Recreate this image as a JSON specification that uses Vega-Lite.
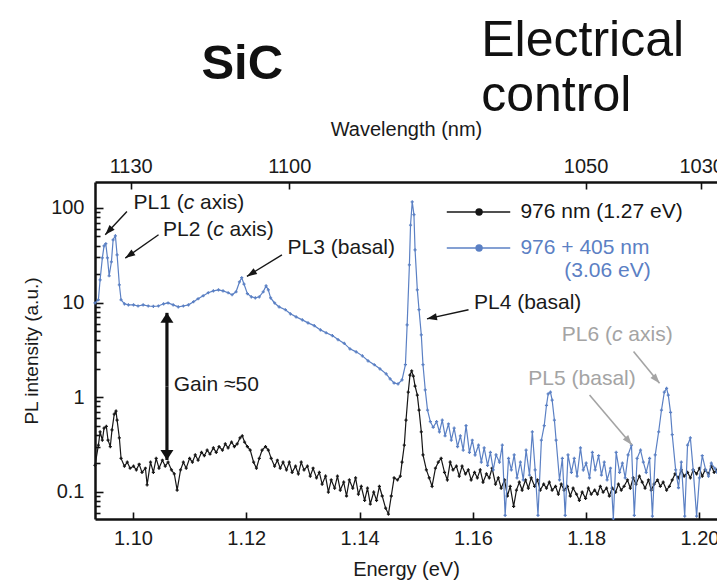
{
  "$schema": "https://vega.github.io/schema/vega-lite/v6.json",
  "width": 622,
  "height": 337,
  "autosize": {"type": "none"},
  "padding": {"left": 95, "top": 182, "right": 0, "bottom": 67},
  "config": {
    "font": "Liberation Sans",
    "view": {"stroke": null},
    "axis": {
      "domainColor": "#111111", "domainWidth": 2.5, "tickColor": "#111111", "tickWidth": 1.6,
      "labelFont": "Liberation Sans", "labelFontSize": 20, "labelColor": "#1a1a1a",
      "titleFont": "Liberation Sans", "titleFontSize": 20, "titleFontWeight": "normal", "titleColor": "#1a1a1a",
      "grid": false
    }
  },
  "datasets": {
    "spectra": [
      {"series":"976 nm","energy":1.0933,"intensity":0.19},{"series":"976 nm","energy":1.0939,"intensity":0.31},{"series":"976 nm","energy":1.0942,"intensity":0.43},{"series":"976 nm","energy":1.0946,"intensity":0.35},{"series":"976 nm","energy":1.0949,"intensity":0.47},{"series":"976 nm","energy":1.0953,"intensity":0.49},{"series":"976 nm","energy":1.0956,"intensity":0.35},{"series":"976 nm","energy":1.0960,"intensity":0.30},{"series":"976 nm","energy":1.0963,"intensity":0.45},{"series":"976 nm","energy":1.0967,"intensity":0.66},{"series":"976 nm","energy":1.0970,"intensity":0.71},{"series":"976 nm","energy":1.0972,"intensity":0.57},{"series":"976 nm","energy":1.0976,"intensity":0.37},{"series":"976 nm","energy":1.0979,"intensity":0.225},{"series":"976 nm","energy":1.0985,"intensity":0.186},{"series":"976 nm","energy":1.0990,"intensity":0.205},{"series":"976 nm","energy":1.0995,"intensity":0.177},{"series":"976 nm","energy":1.1001,"intensity":0.186},{"series":"976 nm","energy":1.1006,"intensity":0.17},{"series":"976 nm","energy":1.1011,"intensity":0.195},{"series":"976 nm","energy":1.1016,"intensity":0.16},{"series":"976 nm","energy":1.1022,"intensity":0.177},{"series":"976 nm","energy":1.1025,"intensity":0.118},{"series":"976 nm","energy":1.1031,"intensity":0.205},{"series":"976 nm","energy":1.1036,"intensity":0.16},{"series":"976 nm","energy":1.1041,"intensity":0.225},{"series":"976 nm","energy":1.1046,"intensity":0.177},{"series":"976 nm","energy":1.1052,"intensity":0.215},{"series":"976 nm","energy":1.1057,"intensity":0.186},{"series":"976 nm","energy":1.1062,"intensity":0.205},{"series":"976 nm","energy":1.1068,"intensity":0.17},{"series":"976 nm","energy":1.1073,"intensity":0.154},{"series":"976 nm","energy":1.1078,"intensity":0.104},{"series":"976 nm","energy":1.1084,"intensity":0.17},{"series":"976 nm","energy":1.1089,"intensity":0.205},{"series":"976 nm","energy":1.1094,"intensity":0.177},{"series":"976 nm","energy":1.1100,"intensity":0.225},{"series":"976 nm","energy":1.1105,"intensity":0.205},{"series":"976 nm","energy":1.1110,"intensity":0.245},{"series":"976 nm","energy":1.1115,"intensity":0.215},{"series":"976 nm","energy":1.1121,"intensity":0.26},{"series":"976 nm","energy":1.1126,"intensity":0.24},{"series":"976 nm","energy":1.1131,"intensity":0.275},{"series":"976 nm","energy":1.1136,"intensity":0.25},{"series":"976 nm","energy":1.1142,"intensity":0.29},{"series":"976 nm","energy":1.1147,"intensity":0.26},{"series":"976 nm","energy":1.1152,"intensity":0.30},{"series":"976 nm","energy":1.1158,"intensity":0.275},{"series":"976 nm","energy":1.1163,"intensity":0.32},{"series":"976 nm","energy":1.1168,"intensity":0.29},{"series":"976 nm","energy":1.1174,"intensity":0.335},{"series":"976 nm","energy":1.1179,"intensity":0.30},{"series":"976 nm","energy":1.1184,"intensity":0.32},{"series":"976 nm","energy":1.1189,"intensity":0.37},{"series":"976 nm","energy":1.1193,"intensity":0.39},{"series":"976 nm","energy":1.1197,"intensity":0.335},{"series":"976 nm","energy":1.1202,"intensity":0.30},{"series":"976 nm","energy":1.1207,"intensity":0.275},{"series":"976 nm","energy":1.1213,"intensity":0.205},{"series":"976 nm","energy":1.1218,"intensity":0.177},{"series":"976 nm","energy":1.1223,"intensity":0.225},{"series":"976 nm","energy":1.1228,"intensity":0.275},{"series":"976 nm","energy":1.1234,"intensity":0.30},{"series":"976 nm","energy":1.1239,"intensity":0.275},{"series":"976 nm","energy":1.1244,"intensity":0.225},{"series":"976 nm","energy":1.1250,"intensity":0.186},{"series":"976 nm","energy":1.1255,"intensity":0.215},{"series":"976 nm","energy":1.1260,"intensity":0.177},{"series":"976 nm","energy":1.1265,"intensity":0.205},{"series":"976 nm","energy":1.1271,"intensity":0.17},{"series":"976 nm","energy":1.1276,"intensity":0.205},{"series":"976 nm","energy":1.1281,"intensity":0.16},{"series":"976 nm","energy":1.1287,"intensity":0.186},{"series":"976 nm","energy":1.1292,"intensity":0.154},{"series":"976 nm","energy":1.1297,"intensity":0.205},{"series":"976 nm","energy":1.1302,"intensity":0.17},{"series":"976 nm","energy":1.1308,"intensity":0.186},{"series":"976 nm","energy":1.1313,"intensity":0.146},{"series":"976 nm","energy":1.1318,"intensity":0.177},{"series":"976 nm","energy":1.1324,"intensity":0.14},{"series":"976 nm","energy":1.1329,"intensity":0.16},{"series":"976 nm","energy":1.1334,"intensity":0.12},{"series":"976 nm","energy":1.1340,"intensity":0.146},{"series":"976 nm","energy":1.1345,"intensity":0.099},{"series":"976 nm","energy":1.1350,"intensity":0.133},{"series":"976 nm","energy":1.1356,"intensity":0.109},{"series":"976 nm","energy":1.1361,"intensity":0.146},{"series":"976 nm","energy":1.1366,"intensity":0.104},{"series":"976 nm","energy":1.1372,"intensity":0.126},{"series":"976 nm","energy":1.1377,"intensity":0.09},{"series":"976 nm","energy":1.1382,"intensity":0.133},{"series":"976 nm","energy":1.1388,"intensity":0.109},{"series":"976 nm","energy":1.1393,"intensity":0.14},{"series":"976 nm","energy":1.1398,"intensity":0.094},{"series":"976 nm","energy":1.1403,"intensity":0.114},{"series":"976 nm","energy":1.1409,"intensity":0.081},{"series":"976 nm","energy":1.1414,"intensity":0.109},{"series":"976 nm","energy":1.1419,"intensity":0.074},{"series":"976 nm","energy":1.1425,"intensity":0.099},{"series":"976 nm","energy":1.1430,"intensity":0.081},{"series":"976 nm","energy":1.1435,"intensity":0.114},{"series":"976 nm","energy":1.1440,"intensity":0.09},{"series":"976 nm","energy":1.1446,"intensity":0.067},{"series":"976 nm","energy":1.1451,"intensity":0.058},{"series":"976 nm","energy":1.1456,"intensity":0.09},{"series":"976 nm","energy":1.1461,"intensity":0.14},{"series":"976 nm","energy":1.1467,"intensity":0.133},{"series":"976 nm","energy":1.1472,"intensity":0.146},{"series":"976 nm","energy":1.1475,"intensity":0.205},{"series":"976 nm","energy":1.1479,"intensity":0.31},{"series":"976 nm","energy":1.1482,"intensity":0.57},{"series":"976 nm","energy":1.1486,"intensity":1.13},{"series":"976 nm","energy":1.1489,"intensity":1.71},{"series":"976 nm","energy":1.1492,"intensity":1.89},{"series":"976 nm","energy":1.1495,"intensity":1.67},{"series":"976 nm","energy":1.1498,"intensity":1.31},{"series":"976 nm","energy":1.1502,"intensity":1.05},{"series":"976 nm","energy":1.1505,"intensity":0.73},{"series":"976 nm","energy":1.1509,"intensity":0.43},{"series":"976 nm","energy":1.1512,"intensity":0.245},{"series":"976 nm","energy":1.1518,"intensity":0.17},{"series":"976 nm","energy":1.1523,"intensity":0.14},{"series":"976 nm","energy":1.1528,"intensity":0.114},{"series":"976 nm","energy":1.1534,"intensity":0.177},{"series":"976 nm","energy":1.1539,"intensity":0.205},{"series":"976 nm","energy":1.1544,"intensity":0.225},{"series":"976 nm","energy":1.1550,"intensity":0.16},{"series":"976 nm","energy":1.1555,"intensity":0.133},{"series":"976 nm","energy":1.1560,"intensity":0.205},{"series":"976 nm","energy":1.1565,"intensity":0.17},{"series":"976 nm","energy":1.1571,"intensity":0.186},{"series":"976 nm","energy":1.1576,"intensity":0.146},{"series":"976 nm","energy":1.1581,"intensity":0.186},{"series":"976 nm","energy":1.1587,"intensity":0.154},{"series":"976 nm","energy":1.1592,"intensity":0.17},{"series":"976 nm","energy":1.1597,"intensity":0.133},{"series":"976 nm","energy":1.1603,"intensity":0.16},{"series":"976 nm","energy":1.1608,"intensity":0.14},{"series":"976 nm","energy":1.1613,"intensity":0.17},{"series":"976 nm","energy":1.1618,"intensity":0.126},{"series":"976 nm","energy":1.1624,"intensity":0.154},{"series":"976 nm","energy":1.1629,"intensity":0.14},{"series":"976 nm","energy":1.1634,"intensity":0.177},{"series":"976 nm","energy":1.1640,"intensity":0.12},{"series":"976 nm","energy":1.1645,"intensity":0.14},{"series":"976 nm","energy":1.1650,"intensity":0.109},{"series":"976 nm","energy":1.1656,"intensity":0.133},{"series":"976 nm","energy":1.1661,"intensity":0.09},{"series":"976 nm","energy":1.1666,"intensity":0.114},{"series":"976 nm","energy":1.1672,"intensity":0.07},{"series":"976 nm","energy":1.1677,"intensity":0.104},{"series":"976 nm","energy":1.1682,"intensity":0.126},{"series":"976 nm","energy":1.1687,"intensity":0.104},{"series":"976 nm","energy":1.1693,"intensity":0.133},{"series":"976 nm","energy":1.1698,"intensity":0.109},{"series":"976 nm","energy":1.1703,"intensity":0.14},{"series":"976 nm","energy":1.1709,"intensity":0.114},{"series":"976 nm","energy":1.1714,"intensity":0.133},{"series":"976 nm","energy":1.1719,"intensity":0.104},{"series":"976 nm","energy":1.1725,"intensity":0.12},{"series":"976 nm","energy":1.1730,"intensity":0.109},{"series":"976 nm","energy":1.1735,"intensity":0.126},{"series":"976 nm","energy":1.1740,"intensity":0.104},{"series":"976 nm","energy":1.1746,"intensity":0.114},{"series":"976 nm","energy":1.1751,"intensity":0.094},{"series":"976 nm","energy":1.1756,"intensity":0.12},{"series":"976 nm","energy":1.1761,"intensity":0.104},{"series":"976 nm","energy":1.1767,"intensity":0.114},{"series":"976 nm","energy":1.1772,"intensity":0.09},{"series":"976 nm","energy":1.1777,"intensity":0.109},{"series":"976 nm","energy":1.1783,"intensity":0.094},{"series":"976 nm","energy":1.1788,"intensity":0.081},{"series":"976 nm","energy":1.1793,"intensity":0.099},{"series":"976 nm","energy":1.1799,"intensity":0.085},{"series":"976 nm","energy":1.1804,"intensity":0.109},{"series":"976 nm","energy":1.1809,"intensity":0.094},{"series":"976 nm","energy":1.1815,"intensity":0.104},{"series":"976 nm","energy":1.1820,"intensity":0.094},{"series":"976 nm","energy":1.1825,"intensity":0.114},{"series":"976 nm","energy":1.1830,"intensity":0.099},{"series":"976 nm","energy":1.1836,"intensity":0.109},{"series":"976 nm","energy":1.1841,"intensity":0.09},{"series":"976 nm","energy":1.1846,"intensity":0.109},{"series":"976 nm","energy":1.1852,"intensity":0.099},{"series":"976 nm","energy":1.1857,"intensity":0.12},{"series":"976 nm","energy":1.1862,"intensity":0.104},{"series":"976 nm","energy":1.1867,"intensity":0.114},{"series":"976 nm","energy":1.1873,"intensity":0.133},{"series":"976 nm","energy":1.1878,"intensity":0.109},{"series":"976 nm","energy":1.1883,"intensity":0.14},{"series":"976 nm","energy":1.1888,"intensity":0.12},{"series":"976 nm","energy":1.1894,"intensity":0.146},{"series":"976 nm","energy":1.1899,"intensity":0.126},{"series":"976 nm","energy":1.1904,"intensity":0.109},{"series":"976 nm","energy":1.1910,"intensity":0.133},{"series":"976 nm","energy":1.1915,"intensity":0.104},{"series":"976 nm","energy":1.1920,"intensity":0.12},{"series":"976 nm","energy":1.1926,"intensity":0.133},{"series":"976 nm","energy":1.1931,"intensity":0.114},{"series":"976 nm","energy":1.1936,"intensity":0.126},{"series":"976 nm","energy":1.1942,"intensity":0.104},{"series":"976 nm","energy":1.1947,"intensity":0.114},{"series":"976 nm","energy":1.1952,"intensity":0.133},{"series":"976 nm","energy":1.1957,"intensity":0.154},{"series":"976 nm","energy":1.1963,"intensity":0.14},{"series":"976 nm","energy":1.1968,"intensity":0.17},{"series":"976 nm","energy":1.1973,"intensity":0.146},{"series":"976 nm","energy":1.1979,"intensity":0.16},{"series":"976 nm","energy":1.1984,"intensity":0.14},{"series":"976 nm","energy":1.1989,"intensity":0.17},{"series":"976 nm","energy":1.1995,"intensity":0.154},{"series":"976 nm","energy":1.2000,"intensity":0.177},{"series":"976 nm","energy":1.2005,"intensity":0.146},{"series":"976 nm","energy":1.2010,"intensity":0.17},{"series":"976 nm","energy":1.2016,"intensity":0.154},{"series":"976 nm","energy":1.2021,"intensity":0.186},{"series":"976 nm","energy":1.2026,"intensity":0.16},{"series":"976 nm","energy":1.2031,"intensity":0.17},
      {"series":"976 + 405 nm","energy":1.0933,"intensity":9.9},{"series":"976 + 405 nm","energy":1.0939,"intensity":10.7},{"series":"976 + 405 nm","energy":1.0942,"intensity":17.4},{"series":"976 + 405 nm","energy":1.0946,"intensity":29.7},{"series":"976 + 405 nm","energy":1.0949,"intensity":39.8},{"series":"976 + 405 nm","energy":1.0952,"intensity":41.9},{"series":"976 + 405 nm","energy":1.0955,"intensity":29.7},{"series":"976 + 405 nm","energy":1.0958,"intensity":19.2},{"series":"976 + 405 nm","energy":1.0962,"intensity":27.0},{"series":"976 + 405 nm","energy":1.0965,"intensity":46.1},{"series":"976 + 405 nm","energy":1.0969,"intensity":50.8},{"series":"976 + 405 nm","energy":1.0972,"intensity":32.0},{"series":"976 + 405 nm","energy":1.0976,"intensity":15.4},{"series":"976 + 405 nm","energy":1.0979,"intensity":10.7},{"series":"976 + 405 nm","energy":1.0985,"intensity":9.7},{"series":"976 + 405 nm","energy":1.0992,"intensity":9.45},{"series":"976 + 405 nm","energy":1.1001,"intensity":9.45},{"series":"976 + 405 nm","energy":1.1009,"intensity":9.2},{"series":"976 + 405 nm","energy":1.1018,"intensity":9.45},{"series":"976 + 405 nm","energy":1.1027,"intensity":9.2},{"series":"976 + 405 nm","energy":1.1036,"intensity":9.1},{"series":"976 + 405 nm","energy":1.1045,"intensity":9.2},{"series":"976 + 405 nm","energy":1.1054,"intensity":9.7},{"series":"976 + 405 nm","energy":1.1062,"intensity":9.9},{"series":"976 + 405 nm","energy":1.1071,"intensity":9.45},{"series":"976 + 405 nm","energy":1.1080,"intensity":9.0},{"series":"976 + 405 nm","energy":1.1089,"intensity":9.2},{"series":"976 + 405 nm","energy":1.1098,"intensity":9.45},{"series":"976 + 405 nm","energy":1.1107,"intensity":10.2},{"series":"976 + 405 nm","energy":1.1115,"intensity":10.97},{"series":"976 + 405 nm","energy":1.1124,"intensity":11.8},{"series":"976 + 405 nm","energy":1.1133,"intensity":12.7},{"series":"976 + 405 nm","energy":1.1142,"intensity":13.3},{"series":"976 + 405 nm","energy":1.1151,"intensity":13.6},{"series":"976 + 405 nm","energy":1.1159,"intensity":13.3},{"series":"976 + 405 nm","energy":1.1168,"intensity":12.7},{"series":"976 + 405 nm","energy":1.1175,"intensity":12.1},{"series":"976 + 405 nm","energy":1.1182,"intensity":13.0},{"series":"976 + 405 nm","energy":1.1188,"intensity":16.5},{"series":"976 + 405 nm","energy":1.1192,"intensity":18.3},{"series":"976 + 405 nm","energy":1.1196,"intensity":15.7},{"series":"976 + 405 nm","energy":1.1202,"intensity":12.4},{"series":"976 + 405 nm","energy":1.1209,"intensity":11.5},{"series":"976 + 405 nm","energy":1.1216,"intensity":11.2},{"series":"976 + 405 nm","energy":1.1223,"intensity":11.5},{"series":"976 + 405 nm","energy":1.1230,"intensity":13.0},{"series":"976 + 405 nm","energy":1.1235,"intensity":15.0},{"series":"976 + 405 nm","energy":1.1239,"intensity":13.6},{"series":"976 + 405 nm","energy":1.1243,"intensity":11.2},{"series":"976 + 405 nm","energy":1.1250,"intensity":9.9},{"series":"976 + 405 nm","energy":1.1258,"intensity":9.0},{"series":"976 + 405 nm","energy":1.1269,"intensity":8.4},{"series":"976 + 405 nm","energy":1.1278,"intensity":7.6},{"series":"976 + 405 nm","energy":1.1288,"intensity":7.06},{"series":"976 + 405 nm","energy":1.1299,"intensity":6.56},{"series":"976 + 405 nm","energy":1.1309,"intensity":6.1},{"series":"976 + 405 nm","energy":1.1320,"intensity":5.7},{"series":"976 + 405 nm","energy":1.1331,"intensity":5.14},{"series":"976 + 405 nm","energy":1.1341,"intensity":4.79},{"series":"976 + 405 nm","energy":1.1352,"intensity":4.47},{"series":"976 + 405 nm","energy":1.1362,"intensity":4.06},{"series":"976 + 405 nm","energy":1.1373,"intensity":3.7},{"series":"976 + 405 nm","energy":1.1383,"intensity":3.24},{"series":"976 + 405 nm","energy":1.1394,"intensity":3.01},{"series":"976 + 405 nm","energy":1.1405,"intensity":2.73},{"series":"976 + 405 nm","energy":1.1415,"intensity":2.42},{"series":"976 + 405 nm","energy":1.1426,"intensity":2.2},{"series":"976 + 405 nm","energy":1.1436,"intensity":1.99},{"series":"976 + 405 nm","energy":1.1447,"intensity":1.76},{"series":"976 + 405 nm","energy":1.1454,"intensity":1.56},{"series":"976 + 405 nm","energy":1.1461,"intensity":1.41},{"series":"976 + 405 nm","energy":1.1468,"intensity":1.38},{"series":"976 + 405 nm","energy":1.1475,"intensity":1.52},{"series":"976 + 405 nm","energy":1.1481,"intensity":2.2},{"series":"976 + 405 nm","energy":1.1484,"intensity":5.8},{"series":"976 + 405 nm","energy":1.1488,"intensity":25},{"series":"976 + 405 nm","energy":1.1490,"intensity":66},{"series":"976 + 405 nm","energy":1.1493,"intensity":116},{"series":"976 + 405 nm","energy":1.1496,"intensity":85},{"series":"976 + 405 nm","energy":1.1498,"intensity":36},{"series":"976 + 405 nm","energy":1.1502,"intensity":13.6},{"series":"976 + 405 nm","energy":1.1505,"intensity":8.4},{"series":"976 + 405 nm","energy":1.1509,"intensity":4.55},{"series":"976 + 405 nm","energy":1.1512,"intensity":2.2},{"series":"976 + 405 nm","energy":1.1516,"intensity":1.19},{"series":"976 + 405 nm","energy":1.1520,"intensity":0.73},{"series":"976 + 405 nm","energy":1.1525,"intensity":0.55},{"series":"976 + 405 nm","energy":1.1530,"intensity":0.48},{"series":"976 + 405 nm","energy":1.1536,"intensity":0.55},{"series":"976 + 405 nm","energy":1.1541,"intensity":0.43},{"series":"976 + 405 nm","energy":1.1546,"intensity":0.57},{"series":"976 + 405 nm","energy":1.1551,"intensity":0.39},{"series":"976 + 405 nm","energy":1.1557,"intensity":0.52},{"series":"976 + 405 nm","energy":1.1562,"intensity":0.35},{"series":"976 + 405 nm","energy":1.1567,"intensity":0.47},{"series":"976 + 405 nm","energy":1.1573,"intensity":0.30},{"series":"976 + 405 nm","energy":1.1578,"intensity":0.39},{"series":"976 + 405 nm","energy":1.1583,"intensity":0.275},{"series":"976 + 405 nm","energy":1.1588,"intensity":0.50},{"series":"976 + 405 nm","energy":1.1594,"intensity":0.26},{"series":"976 + 405 nm","energy":1.1599,"intensity":0.35},{"series":"976 + 405 nm","energy":1.1604,"intensity":0.245},{"series":"976 + 405 nm","energy":1.1610,"intensity":0.31},{"series":"976 + 405 nm","energy":1.1615,"intensity":0.205},{"series":"976 + 405 nm","energy":1.1620,"intensity":0.29},{"series":"976 + 405 nm","energy":1.1626,"intensity":0.19},{"series":"976 + 405 nm","energy":1.1631,"intensity":0.26},{"series":"976 + 405 nm","energy":1.1636,"intensity":0.17},{"series":"976 + 405 nm","energy":1.1641,"intensity":0.245},{"series":"976 + 405 nm","energy":1.1647,"intensity":0.205},{"series":"976 + 405 nm","energy":1.1652,"intensity":0.31},{"series":"976 + 405 nm","energy":1.1657,"intensity":0.056},{"series":"976 + 405 nm","energy":1.1663,"intensity":0.225},{"series":"976 + 405 nm","energy":1.1668,"intensity":0.17},{"series":"976 + 405 nm","energy":1.1673,"intensity":0.245},{"series":"976 + 405 nm","energy":1.1678,"intensity":0.14},{"series":"976 + 405 nm","energy":1.1684,"intensity":0.205},{"series":"976 + 405 nm","energy":1.1689,"intensity":0.133},{"series":"976 + 405 nm","energy":1.1694,"intensity":0.275},{"series":"976 + 405 nm","energy":1.1700,"intensity":0.15},{"series":"976 + 405 nm","energy":1.1705,"intensity":0.43},{"series":"976 + 405 nm","energy":1.1710,"intensity":0.17},{"series":"976 + 405 nm","energy":1.1715,"intensity":0.056},{"series":"976 + 405 nm","energy":1.1721,"intensity":0.35},{"series":"976 + 405 nm","energy":1.1726,"intensity":0.5},{"series":"976 + 405 nm","energy":1.1730,"intensity":0.82},{"series":"976 + 405 nm","energy":1.1733,"intensity":1.08},{"series":"976 + 405 nm","energy":1.1737,"intensity":1.13},{"series":"976 + 405 nm","energy":1.1740,"intensity":0.93},{"series":"976 + 405 nm","energy":1.1744,"intensity":0.57},{"series":"976 + 405 nm","energy":1.1747,"intensity":0.35},{"series":"976 + 405 nm","energy":1.1753,"intensity":0.133},{"series":"976 + 405 nm","energy":1.1758,"intensity":0.225},{"series":"976 + 405 nm","energy":1.1763,"intensity":0.056},{"series":"976 + 405 nm","energy":1.1768,"intensity":0.245},{"series":"976 + 405 nm","energy":1.1774,"intensity":0.16},{"series":"976 + 405 nm","energy":1.1779,"intensity":0.225},{"series":"976 + 405 nm","energy":1.1784,"intensity":0.146},{"series":"976 + 405 nm","energy":1.1790,"intensity":0.29},{"series":"976 + 405 nm","energy":1.1795,"intensity":0.17},{"series":"976 + 405 nm","energy":1.1800,"intensity":0.2},{"series":"976 + 405 nm","energy":1.1806,"intensity":0.14},{"series":"976 + 405 nm","energy":1.1811,"intensity":0.26},{"series":"976 + 405 nm","energy":1.1816,"intensity":0.17},{"series":"976 + 405 nm","energy":1.1822,"intensity":0.24},{"series":"976 + 405 nm","energy":1.1827,"intensity":0.15},{"series":"976 + 405 nm","energy":1.1832,"intensity":0.205},{"series":"976 + 405 nm","energy":1.1837,"intensity":0.133},{"series":"976 + 405 nm","energy":1.1843,"intensity":0.177},{"series":"976 + 405 nm","energy":1.1848,"intensity":0.052},{"series":"976 + 405 nm","energy":1.1853,"intensity":0.26},{"series":"976 + 405 nm","energy":1.1859,"intensity":0.16},{"series":"976 + 405 nm","energy":1.1864,"intensity":0.2},{"series":"976 + 405 nm","energy":1.1869,"intensity":0.14},{"series":"976 + 405 nm","energy":1.1874,"intensity":0.245},{"series":"976 + 405 nm","energy":1.1880,"intensity":0.31},{"series":"976 + 405 nm","energy":1.1885,"intensity":0.056},{"series":"976 + 405 nm","energy":1.1890,"intensity":0.225},{"series":"976 + 405 nm","energy":1.1896,"intensity":0.275},{"series":"976 + 405 nm","energy":1.1901,"intensity":0.205},{"series":"976 + 405 nm","energy":1.1906,"intensity":0.16},{"series":"976 + 405 nm","energy":1.1912,"intensity":0.225},{"series":"976 + 405 nm","energy":1.1917,"intensity":0.055},{"series":"976 + 405 nm","energy":1.1922,"intensity":0.245},{"series":"976 + 405 nm","energy":1.1928,"intensity":0.43},{"series":"976 + 405 nm","energy":1.1933,"intensity":0.73},{"series":"976 + 405 nm","energy":1.1938,"intensity":1.13},{"series":"976 + 405 nm","energy":1.1942,"intensity":1.24},{"series":"976 + 405 nm","energy":1.1945,"intensity":1.05},{"series":"976 + 405 nm","energy":1.1949,"intensity":0.69},{"series":"976 + 405 nm","energy":1.1952,"intensity":0.4},{"series":"976 + 405 nm","energy":1.1958,"intensity":0.17},{"series":"976 + 405 nm","energy":1.1963,"intensity":0.11},{"series":"976 + 405 nm","energy":1.1968,"intensity":0.205},{"series":"976 + 405 nm","energy":1.1974,"intensity":0.055},{"series":"976 + 405 nm","energy":1.1979,"intensity":0.31},{"series":"976 + 405 nm","energy":1.1984,"intensity":0.37},{"series":"976 + 405 nm","energy":1.1989,"intensity":0.17},{"series":"976 + 405 nm","energy":1.1995,"intensity":0.055},{"series":"976 + 405 nm","energy":1.2000,"intensity":0.14},{"series":"976 + 405 nm","energy":1.2005,"intensity":0.24},{"series":"976 + 405 nm","energy":1.2011,"intensity":0.17},{"series":"976 + 405 nm","energy":1.2016,"intensity":0.146},{"series":"976 + 405 nm","energy":1.2021,"intensity":0.2},{"series":"976 + 405 nm","energy":1.2027,"intensity":0.177},{"series":"976 + 405 nm","energy":1.2031,"intensity":0.16}
    ],
    "arrows": [
      {"role":"dark","energy":1.09894,"intensity":91.96,"energy2":1.09511,"intensity2":52.1,"angle":223},
      {"role":"dark","energy":1.10452,"intensity":52.1,"energy2":1.09864,"intensity2":29.5,"angle":235},
      {"role":"dark","energy":1.1263,"intensity":32.0,"energy2":1.12012,"intensity2":18.9,"angle":238},
      {"role":"dark","energy":1.15924,"intensity":8.38,"energy2":1.1519,"intensity2":6.73,"angle":258},
      {"role":"gray","energy":1.18837,"intensity":3.03,"energy2":1.19296,"intensity2":1.40,"angle":140},
      {"role":"gray","energy":1.1806,"intensity":1.055,"energy2":1.18809,"intensity2":0.312,"angle":140},
      {"role":"gain","energy":1.1060,"intensity":1.30,"energy2":1.1060,"intensity2":7.78,"angle":0},
      {"role":"gain","energy":1.1060,"intensity":1.30,"energy2":1.1060,"intensity2":0.216,"angle":180}
    ],
    "notes": [
      {"role":"dark","text":"PL1 (","energy":1.1001,"intensity":112.8},
      {"role":"darkItalic","text":"c","energy":1.10896,"intensity":112.8},
      {"role":"dark","text":"axis)","energy":1.11184,"intensity":112.8},
      {"role":"dark","text":"PL2 (","energy":1.1053,"intensity":58.9},
      {"role":"darkItalic","text":"c","energy":1.11416,"intensity":58.9},
      {"role":"dark","text":"axis)","energy":1.11704,"intensity":58.9},
      {"role":"dark","text":"PL3 (basal)","energy":1.1273,"intensity":37.7},
      {"role":"dark","text":"PL4 (basal)","energy":1.1602,"intensity":10.0},
      {"role":"dark","text":"Gain ≈50","energy":1.1072,"intensity":1.35},
      {"role":"gray","text":"PL6 (","energy":1.1757,"intensity":4.55},
      {"role":"grayItalic","text":"c","energy":1.18456,"intensity":4.55},
      {"role":"gray","text":"axis)","energy":1.18744,"intensity":4.55},
      {"role":"gray","text":"PL5 (basal)","energy":1.1698,"intensity":1.55}
    ],
    "legend": [
      {"series":"976 nm","start":1.1554,"end":1.1666,"mid":1.1611,"level":90.6,"text":"976 nm (1.27 eV)","textStart":1.1684},
      {"series":"976 + 405 nm","start":1.1554,"end":1.1666,"mid":1.1611,"level":37.7,"text":"976 + 405 nm","textStart":1.1684}
    ],
    "legendExtra": [
      {"series":"976 + 405 nm","text":"(3.06 eV)","textEnd":1.1914,"level":21.7}
    ],
    "headings": [
      {"role":"subject","text":"SiC","energy":1.11929,"intensity":2307},
      {"role":"topic","text":"Electrical\ncontrol","energy":1.16148,"intensity":4042}
    ]
  },
  "resolve": {"axis": {"x": "independent", "y": "independent"}},
  "layer": [
    {
      "data": {"name": "spectra"},
      "transform": [{"filter": "datum.series == '976 nm'"}],
      "mark": {"type": "line", "strokeWidth": 1.2, "point": {"shape": "cross", "size": 10, "filled": true}},
      "encoding": {
        "x": {"field": "energy", "type": "quantitative",
          "scale": {"domain": [1.0933, 1.2031], "nice": false, "zero": false},
          "axis": {"orient": "bottom", "title": "Energy (eV)", "values": [1.10, 1.12, 1.14, 1.16, 1.18, 1.20], "format": ".2f", "tickSize": -7, "labelPadding": 16, "titlePadding": 11}},
        "y": {"field": "intensity", "type": "quantitative",
          "scale": {"type": "log", "domain": [0.0514, 188.3], "nice": false},
          "axis": {"title": "PL intensity (a.u.)", "titleFontSize": 19,
            "values": [0.06, 0.07, 0.08, 0.09, 0.1, 0.2, 0.3, 0.4, 0.5, 0.6, 0.7, 0.8, 0.9, 1, 2, 3, 4, 5, 6, 7, 8, 9, 10, 20, 30, 40, 50, 60, 70, 80, 90, 100],
            "labelExpr": "datum.value == 0.1 ? '0.1' : datum.value == 1 ? '1' : datum.value == 10 ? '10' : datum.value == 100 ? '100' : ''",
            "tickSize": {"condition": {"test": "datum.value == 0.1 || datum.value == 1 || datum.value == 10 || datum.value == 100", "value": -8}, "value": -5},
            "labelPadding": 19, "titlePadding": 9}},
        "color": {"field": "series", "type": "nominal", "scale": {"domain": ["976 nm", "976 + 405 nm"], "range": ["#161616", "#5b80c4"]}, "legend": null}
      }
    },
    {
      "data": {"name": "spectra"},
      "transform": [{"filter": "datum.series == '976 + 405 nm'"}],
      "mark": {"type": "line", "strokeWidth": 1.2, "point": {"shape": "cross", "size": 10, "filled": true}},
      "encoding": {
        "x": {"field": "energy", "type": "quantitative",
          "axis": {"orient": "top", "title": "Wavelength (nm)", "values": [1.0996, 1.1276, 1.1799, 1.2003],
            "labelExpr": "format(round(1239.84 / datum.value / 10) * 10, 'd')", "tickSize": -7, "labelPadding": 13, "titlePadding": 17}},
        "y": {"field": "intensity", "type": "quantitative", "axis": null},
        "color": {"field": "series", "type": "nominal", "legend": null}
      }
    },
    {
      "data": {"name": "arrows"},
      "transform": [{"filter": "datum.role == 'dark'"}],
      "mark": {"type": "rule", "color": "#161616", "strokeWidth": 1.4},
      "encoding": {
        "x": {"field": "energy", "type": "quantitative", "axis": null},
        "y": {"field": "intensity", "type": "quantitative", "axis": null},
        "x2": {"field": "energy2"},
        "y2": {"field": "intensity2"}
      }
    },
    {
      "data": {"name": "arrows"},
      "transform": [{"filter": "datum.role == 'gray'"}],
      "mark": {"type": "rule", "color": "#a4a4a4", "strokeWidth": 1.6},
      "encoding": {
        "x": {"field": "energy", "type": "quantitative", "axis": null},
        "y": {"field": "intensity", "type": "quantitative", "axis": null},
        "x2": {"field": "energy2"},
        "y2": {"field": "intensity2"}
      }
    },
    {
      "data": {"name": "arrows"},
      "transform": [{"filter": "datum.role == 'gain'"}],
      "mark": {"type": "rule", "color": "#111111", "strokeWidth": 3.2},
      "encoding": {
        "x": {"field": "energy", "type": "quantitative", "axis": null},
        "y": {"field": "intensity", "type": "quantitative", "axis": null},
        "x2": {"field": "energy2"},
        "y2": {"field": "intensity2"}
      }
    },
    {
      "data": {"name": "arrows"},
      "transform": [{"filter": "datum.role == 'dark'"}],
      "mark": {"type": "point", "shape": "M0,0L0.7,2L-0.7,2Z", "size": 100, "filled": true, "opacity": 1, "color": "#161616"},
      "encoding": {
        "x": {"field": "energy2", "type": "quantitative", "axis": null},
        "y": {"field": "intensity2", "type": "quantitative", "axis": null},
        "angle": {"field": "angle", "type": "quantitative", "scale": null}
      }
    },
    {
      "data": {"name": "arrows"},
      "transform": [{"filter": "datum.role == 'gray'"}],
      "mark": {"type": "point", "shape": "M0,0L0.7,2L-0.7,2Z", "size": 100, "filled": true, "opacity": 1, "color": "#a4a4a4"},
      "encoding": {
        "x": {"field": "energy2", "type": "quantitative", "axis": null},
        "y": {"field": "intensity2", "type": "quantitative", "axis": null},
        "angle": {"field": "angle", "type": "quantitative", "scale": null}
      }
    },
    {
      "data": {"name": "arrows"},
      "transform": [{"filter": "datum.role == 'gain'"}],
      "mark": {"type": "point", "shape": "M0,0L1.3,2L-1.3,2Z", "size": 100, "filled": true, "opacity": 1, "color": "#111111"},
      "encoding": {
        "x": {"field": "energy2", "type": "quantitative", "axis": null},
        "y": {"field": "intensity2", "type": "quantitative", "axis": null},
        "angle": {"field": "angle", "type": "quantitative", "scale": null}
      }
    },
    {
      "data": {"name": "notes"},
      "transform": [{"filter": "datum.role == 'dark'"}],
      "mark": {"type": "text", "align": "left", "baseline": "middle", "fontSize": 21, "color": "#1a1a1a"},
      "encoding": {
        "x": {"field": "energy", "type": "quantitative", "axis": null},
        "y": {"field": "intensity", "type": "quantitative", "axis": null},
        "text": {"field": "text"}
      }
    },
    {
      "data": {"name": "notes"},
      "transform": [{"filter": "datum.role == 'darkItalic'"}],
      "mark": {"type": "text", "align": "left", "baseline": "middle", "fontSize": 21, "fontStyle": "italic", "color": "#1a1a1a"},
      "encoding": {
        "x": {"field": "energy", "type": "quantitative", "axis": null},
        "y": {"field": "intensity", "type": "quantitative", "axis": null},
        "text": {"field": "text"}
      }
    },
    {
      "data": {"name": "notes"},
      "transform": [{"filter": "datum.role == 'gray'"}],
      "mark": {"type": "text", "align": "left", "baseline": "middle", "fontSize": 21, "color": "#a4a4a4"},
      "encoding": {
        "x": {"field": "energy", "type": "quantitative", "axis": null},
        "y": {"field": "intensity", "type": "quantitative", "axis": null},
        "text": {"field": "text"}
      }
    },
    {
      "data": {"name": "notes"},
      "transform": [{"filter": "datum.role == 'grayItalic'"}],
      "mark": {"type": "text", "align": "left", "baseline": "middle", "fontSize": 21, "fontStyle": "italic", "color": "#a4a4a4"},
      "encoding": {
        "x": {"field": "energy", "type": "quantitative", "axis": null},
        "y": {"field": "intensity", "type": "quantitative", "axis": null},
        "text": {"field": "text"}
      }
    },
    {
      "data": {"name": "legend"},
      "mark": {"type": "rule", "strokeWidth": 1.4},
      "encoding": {
        "x": {"field": "start", "type": "quantitative", "axis": null},
        "x2": {"field": "end"},
        "y": {"field": "level", "type": "quantitative", "axis": null},
        "color": {"field": "series", "type": "nominal", "legend": null}
      }
    },
    {
      "data": {"name": "legend"},
      "mark": {"type": "point", "shape": "circle", "size": 55, "filled": true, "opacity": 1},
      "encoding": {
        "x": {"field": "mid", "type": "quantitative", "axis": null},
        "y": {"field": "level", "type": "quantitative", "axis": null},
        "color": {"field": "series", "type": "nominal", "legend": null}
      }
    },
    {
      "data": {"name": "legend"},
      "mark": {"type": "text", "align": "left", "baseline": "middle", "fontSize": 21},
      "encoding": {
        "x": {"field": "textStart", "type": "quantitative", "axis": null},
        "y": {"field": "level", "type": "quantitative", "axis": null},
        "text": {"field": "text"},
        "color": {"field": "series", "type": "nominal", "legend": null}
      }
    },
    {
      "data": {"name": "legendExtra"},
      "mark": {"type": "text", "align": "right", "baseline": "middle", "fontSize": 21},
      "encoding": {
        "x": {"field": "textEnd", "type": "quantitative", "axis": null},
        "y": {"field": "level", "type": "quantitative", "axis": null},
        "text": {"field": "text"},
        "color": {"field": "series", "type": "nominal", "legend": null}
      }
    },
    {
      "data": {"name": "headings"},
      "transform": [{"filter": "datum.role == 'subject'"}],
      "mark": {"type": "text", "align": "center", "baseline": "alphabetic", "fontSize": 49, "fontWeight": "bold", "color": "#111111"},
      "encoding": {
        "x": {"field": "energy", "type": "quantitative", "axis": null},
        "y": {"field": "intensity", "type": "quantitative", "axis": null},
        "text": {"field": "text"}
      }
    },
    {
      "data": {"name": "headings"},
      "transform": [{"filter": "datum.role == 'topic'"}],
      "mark": {"type": "text", "align": "left", "baseline": "alphabetic", "fontSize": 50, "lineBreak": "\n", "lineHeight": 54.5, "color": "#111111"},
      "encoding": {
        "x": {"field": "energy", "type": "quantitative", "axis": null},
        "y": {"field": "intensity", "type": "quantitative", "axis": null},
        "text": {"field": "text"}
      }
    }
  ]
}
